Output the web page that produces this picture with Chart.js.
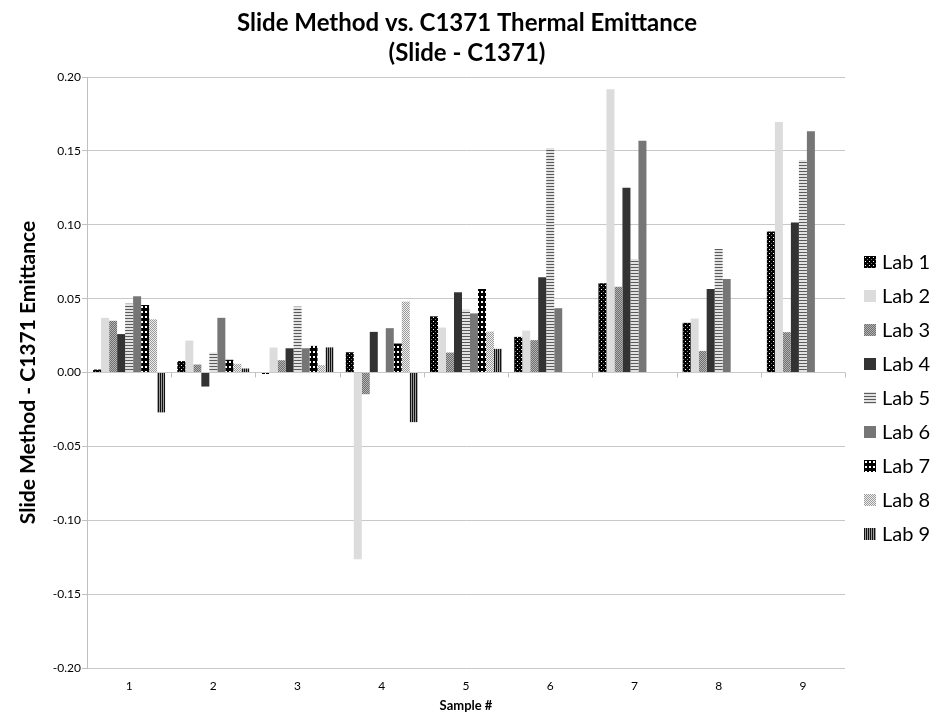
<!DOCTYPE html>
<html>
<head>
<meta charset="utf-8">
<script src="https://cdn.jsdelivr.net/npm/chart.js@4.4.1/dist/chart.umd.min.js"></script>
<style>
  html,body{margin:0;padding:0;background:#fff;}
  #wrap{width:934px;height:714px;position:relative;}
</style>
</head>
<body>
<div id="wrap"><canvas id="chart" width="934" height="714"></canvas></div>
<script>
// datos
const samples = ['1','2','3','4','5','6','7','8','9'];
const labNames = ['Lab 1','Lab 2','Lab 3','Lab 4','Lab 5','Lab 6','Lab 7','Lab 8','Lab 9'];

const lab1 = [0.002, 0.0077, -0.001, 0.0137, 0.038, 0.0241, 0.0604, 0.0336, 0.0955];
const lab2 = [0.037, 0.0216, 0.0169, -0.1264, 0.0304, 0.0284, 0.1917, 0.0365, 0.1696];
const lab3 = [0.035, 0.0054, 0.0083, -0.0147, 0.0135, 0.0219, 0.0581, 0.0146, 0.0273];
const lab4 = [0.026, -0.0095, 0.0164, 0.0275, 0.0543, 0.0644, 0.125, 0.0565, 0.1016];
const lab5 = [0.0466, 0.0135, 0.0446, null, 0.0424, 0.152, 0.0768, 0.0836, 0.1439];
const lab6 = [0.0516, 0.037, 0.0164, 0.030, 0.040, 0.0435, 0.1568, 0.0633, 0.1633];
const lab7 = [0.0457, 0.0086, 0.018, 0.0196, 0.0565, null, null, null, null];
const lab8 = [0.036, 0.0059, 0.005, 0.048, 0.0277, null, null, null, null];
const lab9 = [-0.027, 0.0027, 0.017, -0.0336, 0.016, null, null, null, null];

const yTicks = [-0.20, -0.15, -0.10, -0.05, 0.00, 0.05, 0.10, 0.15, 0.20];

const FONT = 'Lato, "Open Sans", sans-serif';

// tramas en escala de grises
function makePattern(w, h, draw){
  const c = document.createElement('canvas');
  c.width = w; c.height = h;
  const g = c.getContext('2d');
  draw(g);
  return g.createPattern(c, 'repeat');
}
function px(g, col, x, y, w, h){ g.fillStyle = col; g.fillRect(x, y, w, h); }

const fills = [
  makePattern(4, 4, g => { px(g,'#000',0,0,4,4); px(g,'#fff',1,1,1,1); px(g,'#777',3,3,1,1); }),
  '#dcdcdc',
  makePattern(2, 2, g => { px(g,'#6e6e6e',0,0,2,2); px(g,'#b4b4b4',0,0,1,1); px(g,'#b4b4b4',1,1,1,1); }),
  '#333333',
  makePattern(4, 3, g => { px(g,'#e2e2e2',0,0,4,3); px(g,'#5a5a5a',0,0,4,1); }),
  '#767676',
  makePattern(4, 5, g => { px(g,'#000',0,0,4,5); px(g,'#fff',1,1,2,2); }),
  makePattern(2, 2, g => { px(g,'#eeeeee',0,0,2,2); px(g,'#9a9a9a',0,0,1,1); px(g,'#9a9a9a',1,1,1,1); }),
  makePattern(2, 1, g => { px(g,'#111',0,0,1,1); px(g,'#9a9a9a',1,0,1,1); })
];

const series = [lab1, lab2, lab3, lab4, lab5, lab6, lab7, lab8, lab9];

// marcas de la categoria sobre la linea del cero
const zeroTicks = {
  id:'zeroTicks',
  afterDraw(chart){
    const x = chart.scales.x, y = chart.scales.y;
    const ctx = chart.ctx;
    const y0 = y.getPixelForValue(0);
    ctx.save();
    ctx.strokeStyle = '#c0c0c0';
    ctx.lineWidth = 1;
    for (let i = 1; i <= samples.length; i++) {
      const xp = Math.round(x.getPixelForValue(i - 0.5)) + 0.5;
      ctx.beginPath();
      ctx.moveTo(xp, y0);
      ctx.lineTo(xp, y0 + 5);
      ctx.stroke();
    }
    ctx.restore();
  }
};

// leyenda a la derecha
const sideLegend = {
  id:'sideLegend',
  afterDraw(chart){
    const ctx = chart.ctx;
    ctx.save();
    ctx.font = '20px ' + FONT;
    ctx.textBaseline = 'middle';
    ctx.textAlign = 'left';
    labNames.forEach((name, i) => {
      const cy = 262 + i * 34;
      ctx.fillStyle = fills[i];
      ctx.fillRect(864, cy - 6, 12, 12);
      ctx.fillStyle = '#000';
      ctx.fillText(name, 882, cy + 1);
    });
    ctx.restore();
  }
};

new Chart(document.getElementById('chart').getContext('2d'), {
  type:'bar',
  data:{
    labels: samples,
    datasets: series.map((d, i) => ({
      label: labNames[i],
      data: d,
      backgroundColor: fills[i],
      borderWidth: 0,
      barPercentage: 1,
      categoryPercentage: 0.855
    }))
  },
  options:{
    responsive:false,
    animation:false,
    layout:{padding:0},
    plugins:{
      legend:{display:false},
      tooltip:{enabled:false},
      title:{
        display:true,
        text:['Slide Method vs. C1371 Thermal Emittance','(Slide - C1371)'],
        color:'#000',
        font:{family:FONT, size:24, weight:'bold', lineHeight:1.25},
        padding:{top:8, bottom:9}
      }
    },
    scales:{
      x:{
        grid:{display:false},
        border:{display:false},
        ticks:{color:'#000', font:{family:FONT, size:12}, padding:3},
        title:{display:true, text:'Sample #', color:'#000', font:{family:FONT, size:13, weight:'bold'}, padding:0},
        afterFit(s){ s.height = 46; }
      },
      y:{
        min:-0.2, max:0.2,
        afterBuildTicks(s){ s.ticks = yTicks.map(v => ({value:v})); },
        grid:{color:'#c8c8c8', tickLength:5, tickColor:'#c0c0c0'},
        border:{color:'#c0c0c0'},
        ticks:{color:'#000', font:{family:FONT, size:12}, padding:1,
               callback:v => Number(v).toFixed(2)},
        title:{display:true, text:'Slide Method - C1371 Emittance', color:'#000',
               font:{family:FONT, size:21, weight:'bold'}, padding:{top:16, bottom:0}},
        afterFit(s){ s.width = 87; }
      },
      // espacio reservado para la leyenda
      side:{
        position:'right',
        display:true,
        grid:{display:false},
        border:{display:false},
        ticks:{display:false},
        afterFit(s){ s.width = 89; }
      }
    }
  },
  plugins:[zeroTicks, sideLegend]
});
</script>
</body>
</html>
